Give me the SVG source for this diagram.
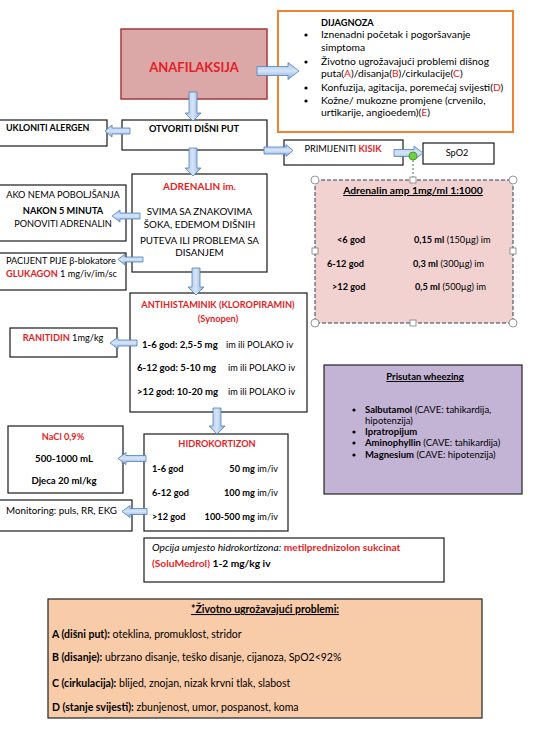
<svg xmlns="http://www.w3.org/2000/svg" width="539" height="734" viewBox="0 0 539 734">
<defs>
<linearGradient id="gh" x1="0" y1="0" x2="0" y2="1">
<stop offset="0" stop-color="#a9c4ea"/><stop offset="0.5" stop-color="#d6e4f7"/><stop offset="1" stop-color="#86a9dc"/>
</linearGradient>
<linearGradient id="gv" x1="0" y1="0" x2="1" y2="0">
<stop offset="0" stop-color="#a9c4ea"/><stop offset="0.5" stop-color="#d6e4f7"/><stop offset="1" stop-color="#86a9dc"/>
</linearGradient>
<style>
text{font-family:Lato,"Liberation Sans",sans-serif;font-size:9.2px;fill:#000}
.b{font-weight:bold}
.r{fill:#e41e26}
.i{font-style:italic}
.m{text-anchor:middle}
.e{text-anchor:end}
.u{text-decoration:underline}
.dj{font-size:10.3px}
.ad{font-size:9.8px}
.op{font-size:10.2px}
.pb{font-size:10.5px}
.wh{font-size:9.5px}
.box{fill:#fff;stroke:#1a1a1a;stroke-width:1.2}
.ah{fill:url(#gh);stroke:#4f81bd;stroke-width:0.8}
.av{fill:url(#gv);stroke:#4f81bd;stroke-width:0.8}
.hc{fill:#fff;stroke:#7f7f7f;stroke-width:0.8}
</style>
</defs>
<rect width="539" height="734" fill="#fff"/>

<g id="anafilaksija">
<rect x="121" y="29" width="146" height="70" fill="#dba7a7" stroke="#a23b3b" stroke-width="1.5"/>
<text x="194" y="72" class="b r m" style="font-size:13px">ANAFILAKSIJA</text>
</g>

<g id="dijagnoza">
<rect x="278" y="11" width="235" height="121" fill="#fff" stroke="#f08232" stroke-width="2"/>
<text x="321" y="26" class="b">DIJAGNOZA</text>
<circle cx="306" cy="35" r="1.6"/><circle cx="306" cy="62" r="1.6"/><circle cx="306" cy="88" r="1.6"/><circle cx="306" cy="101" r="1.6"/>
<text x="321" y="38" class="dj">Iznenadni početak i pogoršavanje</text>
<text x="321" y="51" class="dj">simptoma</text>
<text x="321" y="65" class="dj">Životno ugrožavajući problemi dišnog</text>
<text x="321" y="77" class="dj">puta(<tspan class="r">A</tspan>)/disanja(<tspan class="r">B</tspan>)/cirkulacije(<tspan class="r">C</tspan>)</text>
<text x="321" y="91" class="dj">Konfuzija, agitacija, poremećaj svijesti(<tspan class="r">D</tspan>)</text>
<text x="321" y="104" class="dj">Kožne/ mukozne promjene (crvenilo,</text>
<text x="321" y="116" class="dj">urtikarije, angioedem)(<tspan class="r">E</tspan>)</text>
</g>

<g id="otvoriti">
<rect class="box" x="122" y="120" width="145" height="30"/>
<text x="194" y="132" class="b m">OTVORITI  DIŠNI PUT</text>
</g>

<g id="ukloniti">
<rect class="box" x="-1" y="120" width="108" height="26"/>
<text x="6" y="131" class="b" style="font-size:8.9px">UKLONITI ALERGEN</text>
</g>

<g id="kisik">
<rect class="box" x="284" y="140" width="119" height="25"/>
<text x="343" y="152" class="m">PRIMIJENITI <tspan class="b r">KISIK</tspan></text>
</g>

<g id="spo2">
<rect class="box" x="423" y="143" width="71" height="21"/>
<text x="457" y="156" class="m">SpO2</text>
</g>

<g id="adrenalin-amp">
<rect x="315" y="180" width="198" height="143" fill="#f2d2d0" stroke="#2e3d55" stroke-width="1" stroke-dasharray="4,2"/>
<text x="413" y="194" class="b m u" style="font-size:10.3px">Adrenalin amp 1mg/ml 1:1000</text>
<text x="337" y="243" class="b">&lt;6 god</text>
<text x="414" y="243"><tspan class="b">0,15 ml</tspan> (150µg) im</text>
<text x="327" y="267" class="b">6-12 god</text>
<text x="413" y="267"><tspan class="b">0,3 ml</tspan>   (300µg)  im</text>
<text x="332" y="290" class="b">&gt;12 god</text>
<text x="415" y="290"><tspan class="b">0,5 ml</tspan>  (500µg)  im</text>
<line x1="413" y1="160" x2="413" y2="177" stroke="#2e3d55" stroke-width="0.8" stroke-dasharray="2,2"/>
<circle class="hc" cx="315" cy="180" r="4"/><circle class="hc" cx="513" cy="180" r="4"/>
<circle class="hc" cx="315" cy="323" r="4"/><circle class="hc" cx="513" cy="323" r="4"/>
<rect class="hc" x="410" y="177" width="6" height="6"/><rect class="hc" x="410" y="320" width="6" height="6"/>
<rect class="hc" x="312" y="248" width="6" height="6"/><rect class="hc" x="510" y="248" width="6" height="6"/>
</g>

<g id="adrenalin">
<rect class="box" x="132" y="174" width="135" height="98"/>
<text x="199.5" y="190" class="b r m" style="font-size:10px">ADRENALIN im.</text>
<text x="199.5" y="215" class="m ad">SVIMA SA ZNAKOVIMA</text>
<text x="199.5" y="228" class="m ad">ŠOKA, EDEMOM  DIŠNIH</text>
<text x="199.5" y="244" class="m ad">PUTEVA  ILI  PROBLEMA SA</text>
<text x="199.5" y="256" class="m ad">DISANJEM</text>
</g>

<g id="ponoviti">
<rect class="box" x="-1" y="185" width="127" height="56"/>
<text x="63" y="198" class="m">AKO NEMA  POBOLJŠANJA</text>
<text x="63" y="214" class="b m">NAKON 5 MINUTA</text>
<text x="63" y="227" class="m">PONOVITI  ADRENALIN</text>
</g>

<g id="glukagon">
<rect class="box" x="-1" y="253" width="127" height="37"/>
<text x="6" y="264">PACIJENT  PIJE β-blokatore</text>
<text x="6" y="277"><tspan class="b r">GLUKAGON</tspan> 1 mg/iv/im/sc</text>
</g>

<g id="antihistaminik">
<rect class="box" x="130" y="293" width="177" height="119"/>
<text x="218" y="308" class="b r m">ANTIHISTAMINIK (KLOROPIRAMIN)</text>
<text x="218" y="322" class="b r m">(Synopen)</text>
<text x="142" y="348" class="b" style="font-size:9.6px">1-6 god: 2,5-5 mg</text>
<text x="226" y="348">im ili POLAKO iv</text>
<text x="137" y="371" class="b" style="font-size:9.6px">6-12 god: 5-10 mg</text>
<text x="228" y="371">im ili POLAKO iv</text>
<text x="137" y="395" class="b" style="font-size:9.6px">&gt;12 god: 10-20 mg</text>
<text x="228" y="395">im ili POLAKO iv</text>
</g>

<g id="ranitidin">
<rect class="box" x="10" y="328" width="107" height="29"/>
<text x="63" y="341" class="m"><tspan class="b r">RANITIDIN</tspan> 1mg/kg</text>
</g>

<g id="hidrokortizon">
<rect class="box" x="144" y="434" width="144" height="97"/>
<text x="217" y="447" class="b r m">HIDROKORTIZON</text>
<text x="152" y="472" class="b">1-6 god</text>
<text x="278" y="472" class="e"><tspan class="b">50 mg</tspan> im/iv</text>
<text x="152" y="496" class="b">6-12 god</text>
<text x="278" y="496" class="e"><tspan class="b">100 mg</tspan> im/iv</text>
<text x="152" y="520" class="b">&gt;12 god</text>
<text x="278" y="520" class="e"><tspan class="b">100-500 mg</tspan> im/iv</text>
</g>

<g id="nacl">
<rect class="box" x="8" y="426" width="115" height="67"/>
<text x="63" y="440" class="b r m">NaCl 0,9%</text>
<text x="64" y="462" class="b m" style="font-size:9.6px">500-1000 mL</text>
<text x="64" y="484" class="b m" style="font-size:9.6px">Djeca 20 ml/kg</text>
</g>

<g id="monitoring">
<rect class="box" x="-1" y="500" width="133" height="31"/>
<text x="6" y="514" class="ad">Monitoring: puls, RR, EKG</text>
</g>

<g id="opcija">
<rect class="box" x="144" y="538" width="300" height="44"/>
<text x="152" y="551" class="op"><tspan class="i">Opcija umjesto hidrokortizona:</tspan> <tspan class="b r">metilprednizolon sukcinat</tspan></text>
<text x="152" y="567" class="op"><tspan class="b r">(SoluMedrol)</tspan> <tspan class="b">1-2 mg/kg iv</tspan></text>
</g>

<g id="wheezing">
<rect x="324" y="365" width="198" height="129" fill="#c3b4d6" stroke="#222" stroke-width="1.2"/>
<text x="425" y="380" class="b m u wh">Prisutan wheezing</text>
<circle cx="354" cy="410" r="1.6"/><circle cx="354" cy="432" r="1.6"/><circle cx="354" cy="443" r="1.6"/><circle cx="354" cy="455" r="1.6"/>
<text x="365" y="413" class="wh"><tspan class="b">Salbutamol</tspan> (CAVE:  tahikardija,</text>
<text x="365" y="424" class="wh">hipotenzija)</text>
<text x="365" y="435" class="b wh">Ipratropijum</text>
<text x="365" y="446" class="wh"><tspan class="b">Aminophyllin</tspan> (CAVE: tahikardija)</text>
<text x="365" y="458" class="wh"><tspan class="b">Magnesium</tspan> (CAVE:  hipotenzija)</text>
</g>

<g id="problemi">
<rect x="48" y="599" width="434" height="119" fill="#f8cba9" stroke="#222" stroke-width="1.2"/>
<text x="265" y="613" class="b m u pb">*Životno ugrožavajući problemi:</text>
<text x="52" y="638" class="pb"><tspan class="b">A (dišni put):</tspan> oteklina, promuklost, stridor</text>
<text x="52" y="661" class="pb"><tspan class="b">B (disanje):</tspan> ubrzano disanje, teško disanje, cijanoza, SpO2&lt;92%</text>
<text x="52" y="687" class="pb"><tspan class="b">C (cirkulacija):</tspan> blijed, znojan, nizak krvni tlak, slabost</text>
<text x="52" y="711" class="pb"><tspan class="b">D (stanje svijesti):</tspan> zbunjenost, umor, pospanost, koma</text>
</g>

<g id="connectors">
<path class="av" d="M189,92 H197 V113 H201 L193,121 L185,113 H189 Z"/>
<path class="ah" d="M257,66.5 H288 V62.5 L299,71 L288,79.5 V75.5 H257 Z"/>
<path class="ah" d="M130,128 H112 V125 L105,131 L112,137 V134 H130 Z"/>
<path class="ah" d="M264,147 H286 V144.5 L293,150.5 L286,156.5 V154 H264 Z"/>
<path class="av" d="M189,148 H197 V168 H201 L193,176 L185,168 H189 Z"/>
<path class="ah" d="M394,149.5 H414 V146 L423,153 L414,160 V156.5 H394 Z"/>
<path class="ah" d="M140,213 H120 V210 L112,216 L120,222 V219 H140 Z"/>
<path class="ah" d="M143,257 H125 V254 L118,259.5 L125,265 V262 H143 Z"/>
<path class="av" d="M192,268 H200 V287 H204 L196,295 L188,287 H192 Z"/>
<path class="ah" d="M137,340 H118 V337 L110,343 L118,349 V346 H137 Z"/>
<path class="av" d="M213,408 H221 V426 H225 L217,434 L209,426 H213 Z"/>
<path class="ah" d="M146,455.5 H126 V452.5 L118,458.5 L126,464.5 V461.5 H146 Z"/>
<path class="ah" d="M147,508.5 H130 V505.5 L122,511.5 L130,517.5 V514.5 H147 Z"/>
<circle cx="413" cy="156" r="4" fill="#6fd13c" stroke="#3f8f1f" stroke-width="0.8"/>
</g>
</svg>
